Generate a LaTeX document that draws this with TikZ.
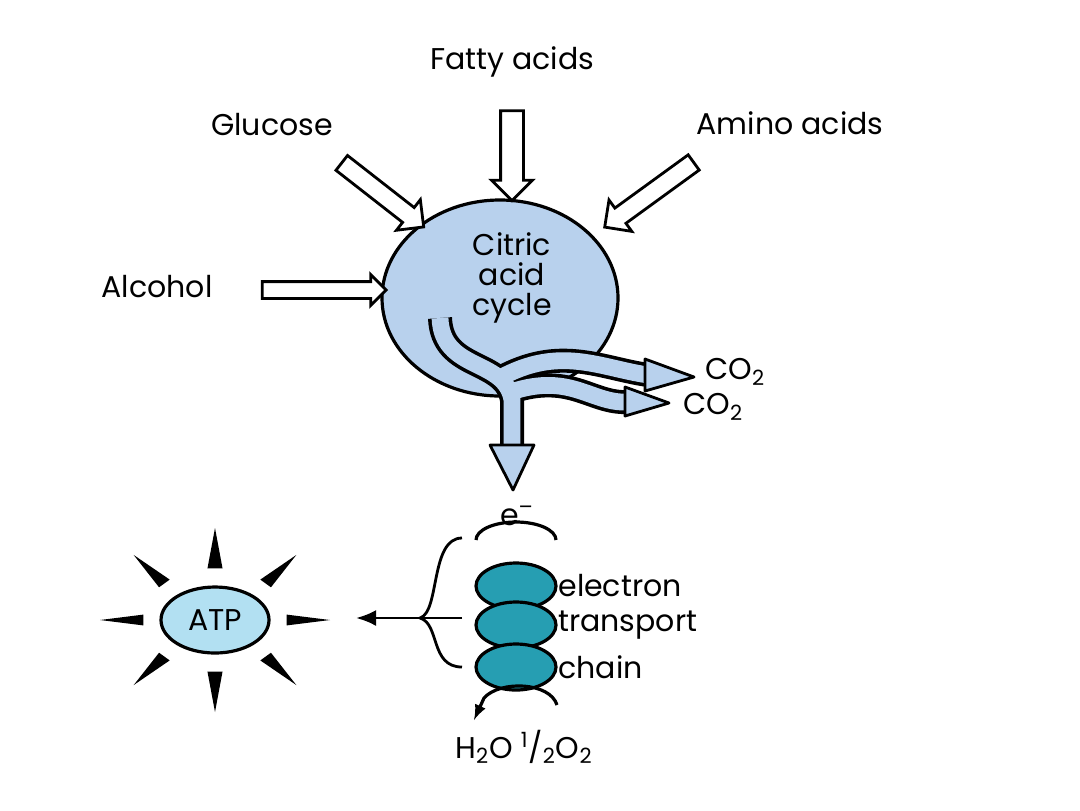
\documentclass[tikz,border=0pt]{standalone}
\usepackage{fontspec}
\setmainfont{Poppins}
\usetikzlibrary{shapes.arrows,arrows.meta}
\definecolor{cyclefill}{rgb}{0.72,0.82,0.93}
\definecolor{chainfill}{rgb}{0.15,0.62,0.70}
\definecolor{atpfill}{rgb}{0.70,0.88,0.95}
\tikzset{
  lbl/.style={font=\fontsize{15}{18}\selectfont, inner sep=0pt},
  hollow/.style={single arrow, draw, line width=1.4pt, fill=white, inner xsep=0pt},
  fatout/.style={line width=12pt, black},
  fatin/.style={line width=8.4pt, cyclefill},
  spike/.style={fill=black},
}
\begin{document}
\begin{tikzpicture}[x=0.5pt,y=-0.5pt]
  \useasboundingbox (0,0) rectangle (1080,810);

  % citric acid cycle
  \draw[line width=1.6pt, fill=cyclefill] (500,298) ellipse [x radius=118, y radius=98];
  \node[lbl, align=center] (cycle) at (512,278) {Citric\\[-3pt]acid\\[-3pt]cycle};

  % inputs
  \node[lbl] (fatty) at (512,62) {Fatty acids};
  \node[lbl] (glucose) at (272,125) {Glucose};
  \node[lbl] (amino) at (790,123) {Amino acids};
  \node[lbl] (alcohol) at (157,287) {Alcohol};
  \node[hollow, rotate=-90, minimum height=45pt, inner ysep=5pt, single arrow head extend=4.5pt] (fattyarrow) at (512,150) {};
  \node[hollow, rotate=-38, minimum height=52pt, inner ysep=4pt, single arrow head extend=5pt] (glucosearrow) at (379,192) {};
  \node[hollow, rotate=-144, minimum height=55pt, inner ysep=4pt, single arrow head extend=5pt] (aminoarrow) at (653,192) {};
  \node[hollow, minimum height=62pt, inner ysep=3.5pt, single arrow head extend=3.5pt] (alcoholarrow) at (320,290) {};

  % outflow
  \draw[fatout] (440,318) .. controls (442,372) and (505,358) .. (512,400) -- (512,447);
  \draw[fatout] (500,378) .. controls (560,345) and (600,368) .. (648,375);
  \draw[fatout] (505,394) .. controls (570,370) and (590,404) .. (628,402);
  \draw[fatin] (440,318) .. controls (442,372) and (505,358) .. (512,400) -- (512,447);
  \draw[fatin] (500,378) .. controls (560,345) and (600,368) .. (648,375);
  \draw[fatin] (505,394) .. controls (570,370) and (590,404) .. (628,402);
  \draw[line width=1.4pt, fill=cyclefill, line join=round] (490,445) -- (534,445) -- (513,490) -- cycle;
  \draw[line width=1.4pt, fill=cyclefill, line join=round] (645,359) -- (694,377) -- (645,391) -- cycle;
  \draw[line width=1.4pt, fill=cyclefill, line join=round] (625,387) -- (669,403) -- (625,416) -- cycle;
  \node[lbl, anchor=west] (co2a) at (705,372) {CO\textsubscript{2}};
  \node[lbl, anchor=west] (co2b) at (683,407) {CO\textsubscript{2}};

  % electron transport chain
  \node[lbl] (elec) at (517,516) {e\textsuperscript{--}};
  \draw[line width=1.6pt] (476,540) arc[start angle=180, end angle=360, x radius=40, y radius=18];
  \foreach \cy/\txt [count=\i] in {586/electron, 625/transport, 667/chain} {
    \draw[line width=1.6pt, fill=chainfill] (516,\cy) ellipse [x radius=40, y radius=23];
    \node[lbl, anchor=west] (etc\i) at (558,\cy) {\txt};
  }
  \draw[line width=1.6pt, -latex] (557,705) .. controls (550,682) and (500,680) .. (484,698) -- (474,720);
  \node[lbl] (water) at (524,747) {H\textsubscript{2}O \textsuperscript{1}/\textsubscript{2}O\textsubscript{2}};

  % brace to ATP
  \draw[line width=1.4pt] (462,538) .. controls (430,538) and (440,612) .. (420,618)
                          .. controls (440,624) and (430,667) .. (462,667);
  \draw[line width=1.4pt, -{Latex[length=10pt,width=8pt]}] (462,618) -- (356,618);

  % ATP
  \draw[line width=1.6pt, fill=atpfill] (215,620) ellipse [x radius=54, y radius=33];
  \node[lbl] (atp) at (215,620) {ATP};
  \foreach \a in {0,45,...,315} {
    \fill[spike] ({215+72*cos(\a+6)},{620+52*sin(\a+6)}) -- ({215+115*cos(\a)},{620+92*sin(\a)})
       -- ({215+72*cos(\a-6)},{620+52*sin(\a-6)}) -- cycle;
  }
\end{tikzpicture}
\end{document}
